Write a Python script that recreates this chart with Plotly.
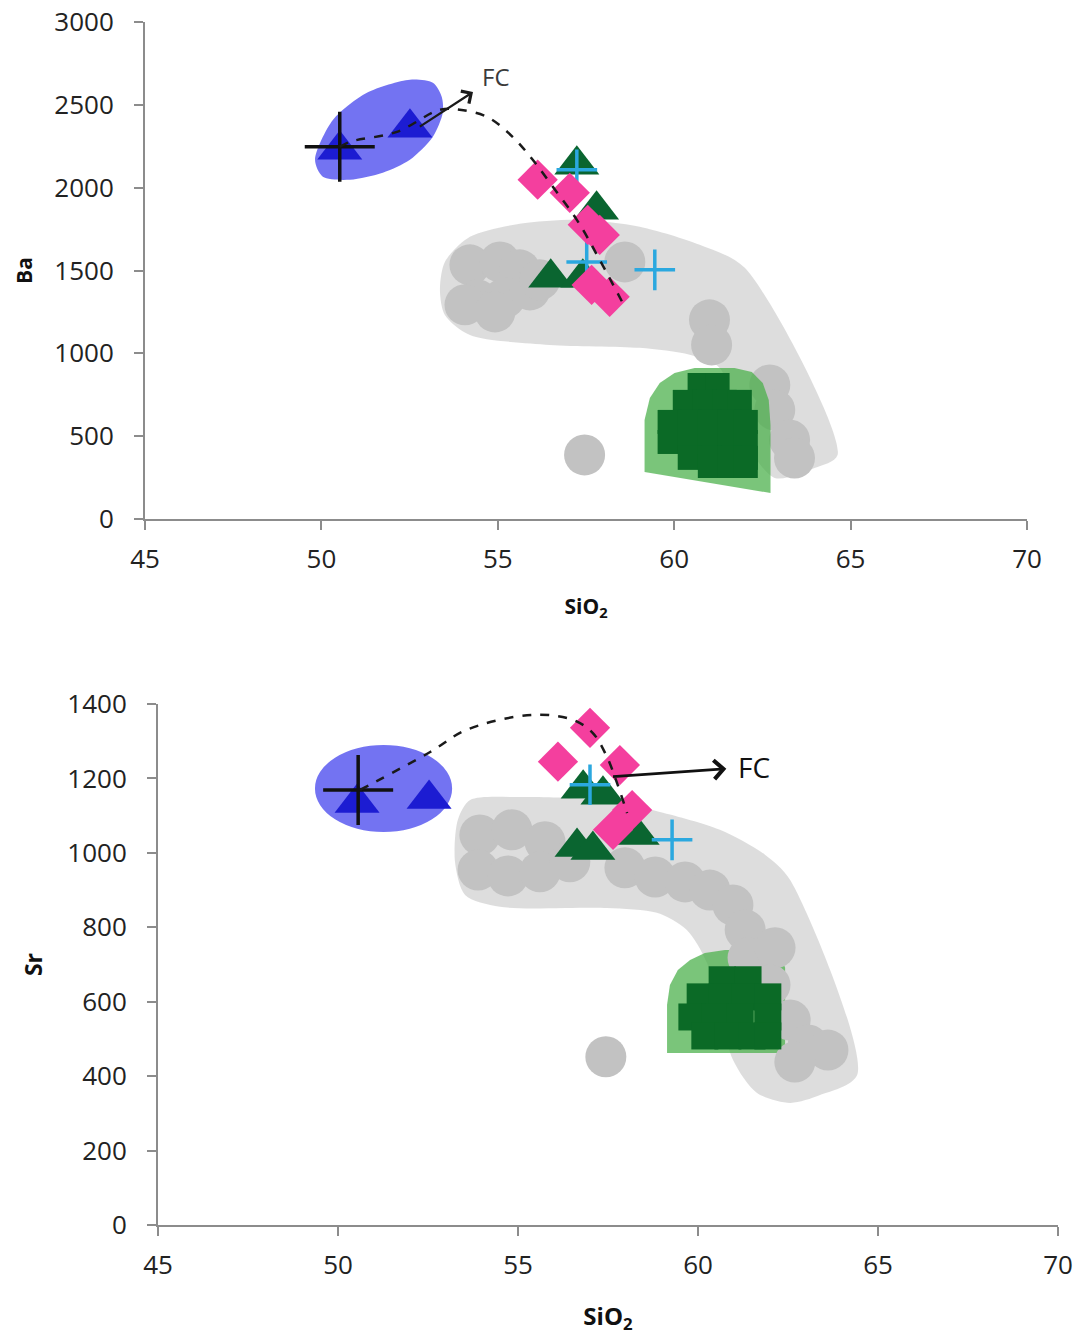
import plotly.graph_objects as go

# ---------------- Upper panel: Ba vs SiO2 ----------------
ba_gray_env_sio2 = [57.32, 59.02, 60.72, 62.00, 64.63, 63.98, 62.85, 62.00, 61.29, 60.44, 59.02,
                    56.47, 54.21, 53.50, 53.36, 53.50, 54.21, 55.62, 57.32]
ba_gray_env_ba = [1806, 1764, 1655, 1516, 387, 308, 248, 477, 912, 991, 1033,
                  1051, 1111, 1232, 1383, 1552, 1703, 1782, 1806]

ba_gray_sio2 = [54.21, 55.06, 55.62, 54.43, 55.20, 54.07, 54.92, 55.91, 56.19, 58.60,
                61.00, 61.06, 62.71, 62.85, 63.27, 63.41, 57.46]
ba_gray_ba = [1534, 1552, 1504, 1323, 1335, 1293, 1250, 1383, 1444, 1552,
              1202, 1051, 809, 658, 477, 368, 387]

ba_green_env_sio2 = [59.16, 59.16, 59.31, 59.59, 60.01, 60.58, 61.71, 62.20, 62.51, 62.68, 62.73, 62.73]
ba_green_env_ba = [284, 598, 731, 821, 882, 912, 912, 888, 821, 719, 568, 157]

ba_dkgreen_sio2 = [60.72, 61.23,
                   60.30, 60.86, 61.43, 61.86,
                   59.87, 60.44, 61.01, 61.57, 62.03,
                   59.87, 60.44, 61.01, 61.57, 62.03,
                   60.44, 61.01, 61.57, 62.03,
                   61.01, 61.57, 62.03]
ba_dkgreen_ba = [809, 809,
                 707, 707, 707, 707,
                 586, 586, 586, 586, 586,
                 465, 465, 465, 465, 465,
                 369, 369, 369, 369,
                 320, 320, 320]

ba_blue_env_sio2 = [52.51, 53.16, 53.41, 53.44, 53.16, 52.51, 51.74, 50.81, 50.04, 49.82, 50.33, 51.29, 52.51]
ba_blue_env_ba = [2652, 2633, 2549, 2452, 2307, 2168, 2090, 2048, 2066, 2168, 2410, 2573, 2652]

ba_blue_tri_sio2 = [50.52, 52.51]
ba_blue_tri_ba = [2229, 2362]
ba_black_cross_sio2 = [50.52]
ba_black_cross_ba = [2247]

ba_green_tri_sio2 = [57.24, 57.80, 56.50, 57.41]
ba_green_tri_ba = [2138, 1866, 1456, 1456]
ba_cyan_cross_sio2 = [57.24, 57.52, 59.45]
ba_cyan_cross_ba = [2108, 1552, 1504]
ba_pink_sio2 = [56.13, 57.04, 57.55, 57.89, 57.66, 58.17]
ba_pink_ba = [2048, 1969, 1776, 1715, 1413, 1341]

ba_trend_sio2 = [50.52, 50.81, 52.14, 53.36, 53.92, 54.69, 55.42, 55.99, 56.56, 57.24, 57.89, 58.60]
ba_trend_ba = [2247, 2277, 2337, 2470, 2470, 2428, 2307, 2168, 2005, 1806, 1564, 1280]

ba_fc_tail = (52.79, 2368)
ba_fc_label = (54.95, 2668)

# ---------------- Lower panel: Sr vs SiO2 ----------------
sr_gray_env_sio2 = [57.28, 58.94, 60.61, 61.86, 62.56, 64.42, 63.39, 62.56, 61.64, 60.97, 60.25,
                    59.69, 58.86, 57.47, 54.50, 53.53, 53.25, 53.33, 53.67, 55.06, 57.28]
sr_gray_env_sr = [1142, 1110, 1062, 995, 927, 403, 349, 328, 355, 444, 704,
                  793, 839, 852, 855, 887, 976, 1089, 1142, 1150, 1142]

sr_gray_sio2 = [53.94, 54.83, 55.75, 53.89, 54.72, 55.61, 56.44, 57.97, 58.81, 59.64, 60.33,
                60.97, 61.31, 61.39, 62.14, 62.00, 62.56, 63.06, 63.61, 62.69, 57.44]
sr_gray_sr = [1048, 1062, 1030, 954, 938, 949, 976, 960, 935, 922, 900,
              860, 793, 718, 745, 645, 551, 484, 470, 438, 452]

sr_green_env_sio2 = [59.14, 59.14, 59.22, 59.44, 59.78, 60.19, 60.75, 62.00, 62.28, 62.42, 62.42]
sr_green_env_sr = [462, 591, 645, 685, 712, 731, 739, 739, 726, 691, 462]

sr_dkgreen_sio2 = [60.67, 61.39,
                   60.06, 60.67, 61.31, 61.94,
                   59.83, 60.47, 61.17, 61.94,
                   60.19, 60.83, 61.50, 61.94]
sr_dkgreen_sr = [659, 659,
                 613, 613, 613, 613,
                 559, 559, 559, 559,
                 508, 508, 508, 508]

sr_blue_env_sio2 = [49.36, 53.17]
sr_blue_env_sr = [1056, 1290]

sr_blue_tri_sio2 = [50.53, 52.53]
sr_blue_tri_sr = [1134, 1145]
sr_black_cross_sio2 = [50.56]
sr_black_cross_sr = [1169]

sr_green_tri_sio2 = [56.81, 57.36, 56.64, 57.08, 58.31]
sr_green_tri_sr = [1172, 1156, 1016, 1008, 1048]
sr_cyan_cross_sio2 = [57.00, 59.28]
sr_cyan_cross_sr = [1183, 1035]
sr_pink_sio2 = [57.00, 56.11, 57.83, 58.17, 57.64]
sr_pink_sr = [1336, 1245, 1236, 1115, 1062]

sr_trend_sio2 = [50.61, 52.56, 53.58, 55.42, 56.53, 57.08, 57.47, 57.75, 58.03]
sr_trend_sr = [1169, 1271, 1331, 1371, 1357, 1322, 1258, 1188, 1107]

sr_fc_tail = (57.64, 1205)
sr_fc_label = (61.55, 1231)

# ---------------- styling ----------------
GRAY_ENV = "rgba(200,200,200,0.62)"
GRAY_DOT = "#c2c2c2"
GREEN_ENV = "rgba(70,175,70,0.72)"
DARK_GREEN = "#0b6a26"
BLUE_ENV = "rgba(90,90,240,0.85)"
BLUE_TRI = "#1c1cd2"
TRI_GREEN = "#0a6530"
PINK = "#f43f9e"
CYAN = "#2ba8df"

fig = go.Figure()


def poly(x, y, color, xa, ya, smooth=True):
    fig.add_trace(go.Scatter(
        x=x, y=y, xaxis=xa, yaxis=ya, mode="lines", fill="toself", fillcolor=color,
        line=dict(width=0, shape="spline" if smooth else "linear", smoothing=0.8),
        hoverinfo="skip", showlegend=False))


def pts(x, y, symbol, size, color, xa, ya, lw=0, lc=None):
    marker = dict(symbol=symbol, size=size, color=color, line=dict(width=lw, color=lc or color))
    fig.add_trace(go.Scatter(x=x, y=y, xaxis=xa, yaxis=ya, mode="markers",
                             marker=marker, hoverinfo="skip", showlegend=False))


def trend(x, y, xa, ya):
    fig.add_trace(go.Scatter(x=x, y=y, xaxis=xa, yaxis=ya, mode="lines",
                             line=dict(color="#1a1a1a", width=2.5, dash="dash", shape="spline"),
                             hoverinfo="skip", showlegend=False))


# upper panel
poly(ba_gray_env_sio2, ba_gray_env_ba, GRAY_ENV, "x", "y")
pts(ba_gray_sio2, ba_gray_ba, "circle", 41, GRAY_DOT, "x", "y")
poly(ba_green_env_sio2, ba_green_env_ba, GREEN_ENV, "x", "y", smooth=False)
pts(ba_dkgreen_sio2, ba_dkgreen_ba, "square", 24, DARK_GREEN, "x", "y")
poly(ba_blue_env_sio2, ba_blue_env_ba, BLUE_ENV, "x", "y")
pts(ba_blue_tri_sio2, ba_blue_tri_ba, "triangle-up", 39, BLUE_TRI, "x", "y")
pts(ba_black_cross_sio2, ba_black_cross_ba, "cross-thin", 50, "#111", "x", "y", lw=3.5, lc="#111")
pts(ba_green_tri_sio2, ba_green_tri_ba, "triangle-up", 39, TRI_GREEN, "x", "y")
pts(ba_cyan_cross_sio2, ba_cyan_cross_ba, "cross-thin", 29, CYAN, "x", "y", lw=3.5, lc=CYAN)
pts(ba_pink_sio2, ba_pink_ba, "diamond", 31, PINK, "x", "y")
trend(ba_trend_sio2, ba_trend_ba, "x", "y")

# lower panel
poly(sr_gray_env_sio2, sr_gray_env_sr, GRAY_ENV, "x2", "y2")
poly(sr_green_env_sio2, sr_green_env_sr, GREEN_ENV, "x2", "y2", smooth=False)
pts(sr_gray_sio2, sr_gray_sr, "circle", 41, GRAY_DOT, "x2", "y2")
pts(sr_dkgreen_sio2, sr_dkgreen_sr, "square", 27, DARK_GREEN, "x2", "y2")
pts(sr_blue_tri_sio2, sr_blue_tri_sr, "triangle-up", 39, BLUE_TRI, "x2", "y2")
pts(sr_black_cross_sio2, sr_black_cross_sr, "cross-thin", 50, "#111", "x2", "y2", lw=3.5, lc="#111")
pts(sr_green_tri_sio2, sr_green_tri_sr, "triangle-up", 39, TRI_GREEN, "x2", "y2")
pts(sr_cyan_cross_sio2, sr_cyan_cross_sr, "cross-thin", 29, CYAN, "x2", "y2", lw=3.5, lc=CYAN)
pts(sr_pink_sio2, sr_pink_sr, "diamond", 31, PINK, "x2", "y2")
trend(sr_trend_sio2, sr_trend_sr, "x2", "y2")

# blue ellipse in the lower panel
fig.add_shape(type="circle", xref="x2", yref="y2",
              x0=sr_blue_env_sio2[0], x1=sr_blue_env_sio2[1],
              y0=sr_blue_env_sr[0], y1=sr_blue_env_sr[1],
              fillcolor=BLUE_ENV, line=dict(width=0), layer="below")

# fractional crystallisation vectors: the arrow runs from the sample towards the "FC" label
fig.add_annotation(x=ba_fc_tail[0], y=ba_fc_tail[1], ax=ba_fc_label[0], ay=ba_fc_label[1],
                   xref="x", yref="y", axref="x", ayref="y", text="FC", showarrow=True,
                   arrowside="start", arrowhead=4, startarrowhead=4, startarrowsize=1.3,
                   startstandoff=9, arrowwidth=2.2, arrowcolor="#1a1a1a",
                   font=dict(family="Open Sans", size=24, color="#3a3a3a"))
fig.add_annotation(x=sr_fc_tail[0], y=sr_fc_tail[1], ax=sr_fc_label[0], ay=sr_fc_label[1],
                   xref="x2", yref="y2", axref="x2", ayref="y2", text="FC", showarrow=True,
                   arrowside="start", arrowhead=4, startarrowhead=4, startarrowsize=1.3,
                   startstandoff=10, arrowwidth=2.8, arrowcolor="#111",
                   font=dict(family="Open Sans", size=28, color="#111"))

H = 1335.0
W = 1080.0
axis_style = dict(showgrid=False, zeroline=False, showline=True, linecolor="#8c8c8c", linewidth=2,
                  ticks="outside", ticklen=9, tickwidth=2, tickcolor="#8c8c8c",
                  tickfont=dict(family="Open Sans", size=26, color="#222"), automargin=False)
title_font = dict(family="Open Sans", size=21, color="#111")

fig.update_layout(
    width=1080, height=1335, paper_bgcolor="white", plot_bgcolor="white",
    margin=dict(l=0, r=0, t=0, b=0),
    xaxis=dict(axis_style, domain=[145 / W, 1027 / W], anchor="y", range=[45, 70], dtick=5, tick0=45,
               ticklabelstandoff=7,
               title=dict(text="<b>SiO<sub>2</sub></b>", font=title_font, standoff=24)),
    yaxis=dict(axis_style, domain=[1 - 519 / H, 1 - 22 / H], anchor="x", range=[0, 3000], dtick=500,
               ticklabelstandoff=15,
               title=dict(text="<b>Ba</b>", font=title_font, standoff=16)),
    xaxis2=dict(axis_style, domain=[158 / W, 1058 / W], anchor="y2", range=[45, 70], dtick=5, tick0=45,
                ticklabelstandoff=7,
                title=dict(text="<b>SiO<sub>2</sub></b>", font=dict(title_font, size=24), standoff=28)),
    yaxis2=dict(axis_style, domain=[1 - 1225 / H, 1 - 704 / H], anchor="x2", range=[0, 1400], dtick=200,
                ticklabelstandoff=15,
                title=dict(text="<b>Sr</b>", font=dict(title_font, size=23), standoff=18)),
)

fig.write_html("out.html")
